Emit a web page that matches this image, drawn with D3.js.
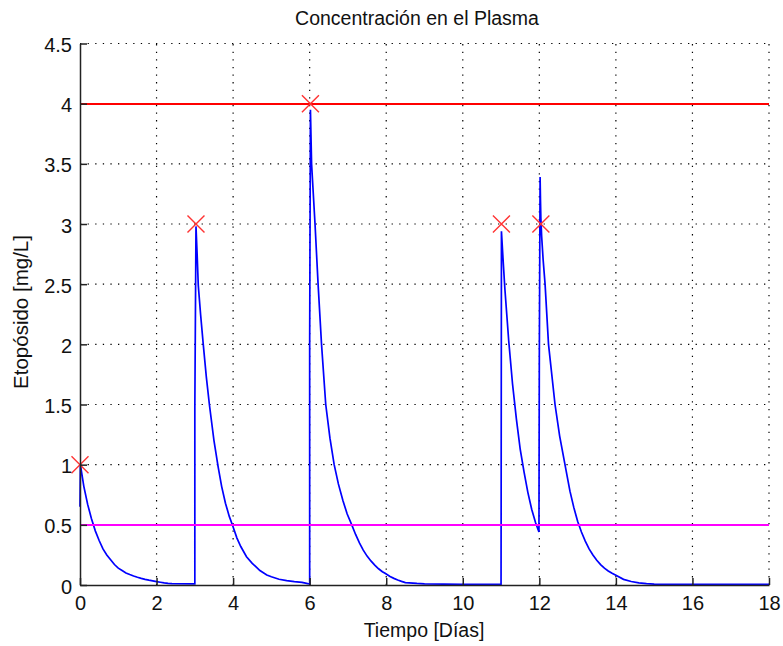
<!DOCTYPE html>
<html>
<head>
<meta charset="utf-8">
<script src="https://cdn.jsdelivr.net/npm/d3@7"></script>
<style>
  html, body { margin: 0; padding: 0; background: #fff; }
  svg { display: block; font-family: "Liberation Sans", Arial, sans-serif; }
  .grid line { stroke: #000; stroke-width: 1.2; stroke-dasharray: 1.3,6.3; }
  .tick-label { font-size: 20px; fill: #111; }
  .lbl { font-size: 19.5px; fill: #111; }
</style>
</head>
<body>
<div id="chart"></div>
<script>
// Concentración de etopósido en plasma (días, mg/L)
var t0 = [0, 0.01, 0.1, 0.2, 0.3, 0.4, 0.5, 0.6, 0.7, 0.8, 0.9, 1.0, 1.1, 1.2, 1.3, 1.4, 1.5, 1.6, 1.7, 1.8, 1.9, 2.0, 2.1, 2.2, 2.3, 2.4, 2.99];
var c0 = [0.65, 1.0, 0.82, 0.67, 0.55, 0.45, 0.37, 0.30, 0.25, 0.21, 0.17, 0.14, 0.12, 0.10, 0.087, 0.075, 0.064, 0.055, 0.047, 0.04, 0.034, 0.028, 0.023, 0.018, 0.014, 0.011, 0.01];

var t3 = [3.0, 3.0, 3.03, 3.06, 3.09, 3.15, 3.22, 3.3, 3.38, 3.5, 3.61, 3.7, 3.8, 3.9, 3.98, 4.1, 4.2, 4.35, 4.5, 4.6, 4.7, 4.88, 5.0, 5.2, 5.4, 5.6, 5.8, 5.95, 5.99];
var c3 = [0.01, 1.47, 2.98, 2.75, 2.49, 2.25, 2.0, 1.73, 1.5, 1.2, 0.98, 0.82, 0.68, 0.57, 0.5, 0.39, 0.32, 0.235, 0.18, 0.15, 0.12, 0.083, 0.068, 0.048, 0.036, 0.028, 0.022, 0.012, 0.01];

var t6 = [6.0, 6.0, 6.02, 6.05, 6.14, 6.22, 6.31, 6.42, 6.53, 6.64, 6.75, 6.87, 6.98, 7.1, 7.2, 7.3, 7.4, 7.5, 7.6, 7.7, 7.8, 7.9, 7.97, 8.1, 8.2, 8.3, 8.4, 8.5, 8.8, 9.0, 10.0, 10.99];
var c6 = [0.01, 2.0, 3.95, 3.5, 3.0, 2.5, 2.0, 1.5, 1.22, 1.0, 0.84, 0.70, 0.59, 0.5, 0.42, 0.35, 0.29, 0.24, 0.2, 0.165, 0.135, 0.11, 0.097, 0.07, 0.055, 0.042, 0.03, 0.02, 0.013, 0.01, 0.006, 0.005];

var t11 = [11.0, 11.01, 11.05, 11.1, 11.2, 11.3, 11.4, 11.5, 11.6, 11.7, 11.8, 11.9, 11.99];
var c11 = [0.005, 2.94, 2.72, 2.46, 2.03, 1.67, 1.38, 1.13, 0.94, 0.77, 0.63, 0.52, 0.44];

var t12 = [12.0, 12.02, 12.03, 12.04, 12.06, 12.1, 12.15, 12.24, 12.41, 12.53, 12.67, 12.8, 12.9, 13.0, 13.1, 13.2, 13.3, 13.4, 13.5, 13.6, 13.7, 13.8, 13.9, 14.0, 14.2, 14.4, 14.6, 14.8, 15.0, 15.5, 16.0, 18.0];
var c12 = [1.91, 3.39, 3.2, 3.05, 2.9, 2.7, 2.5, 2.0, 1.5, 1.24, 1.0, 0.78, 0.645, 0.53, 0.44, 0.365, 0.30, 0.25, 0.206, 0.17, 0.14, 0.117, 0.097, 0.08, 0.047, 0.029, 0.018, 0.012, 0.008, 0.006, 0.005, 0.005];

// picos marcados con "x"
var doseT = [0, 3.03, 6.02, 11.01, 12.04];
var doseC = [1, 3, 4, 3, 3];

// límites terapéuticos
var limSup = 4, limInf = 0.5;

var xTicks = [0, 2, 4, 6, 8, 10, 12, 14, 16, 18];
var yTicks = [0, 0.5, 1, 1.5, 2, 2.5, 3, 3.5, 4, 4.5];

var W = 783, H = 646;
var plotL = 80, plotR = 769, plotT = 43.5, plotB = 585;

var svg = d3.select("#chart").append("svg").attr("width", W).attr("height", H);

var x = d3.scaleLinear().domain([0, 18]).range([plotL, plotR]);
var y = d3.scaleLinear().domain([0, 4.5]).range([plotB, plotT]);

// rejilla punteada (sin caja)
var grid = svg.append("g").attr("class", "grid");
grid.selectAll(".gx").data(xTicks.filter(function (d) { return d > 0; })).enter().append("line")
  .attr("x1", function (d) { return x(d); }).attr("x2", function (d) { return x(d); })
  .attr("y1", plotB).attr("y2", plotT);
grid.selectAll(".gy").data(yTicks.filter(function (d) { return d > 0; })).enter().append("line")
  .attr("y1", function (d) { return y(d); }).attr("y2", function (d) { return y(d); })
  .attr("x1", plotL).attr("x2", plotR);

// curva
var pts = [];
[[t0, c0], [t3, c3], [t6, c6], [t11, c11], [t12, c12]].forEach(function (s) {
  s[0].forEach(function (t, i) { pts.push([t, s[1][i]]); });
});
var line = d3.line().x(function (d) { return x(d[0]); }).y(function (d) { return y(d[1]); });
svg.append("path").datum(pts).attr("d", line)
  .attr("fill", "none").attr("stroke", "#0000ff").attr("stroke-width", 1.7);

// límites (ajustados al píxel para que el color quede limpio)
function hline(v, color) {
  var py = Math.round(y(v));
  svg.append("line").attr("x1", plotL).attr("x2", plotR).attr("y1", py).attr("y2", py)
    .attr("stroke", color).attr("stroke-width", 2);
}
hline(limSup, "#ff0000");
hline(limInf, "#ff00ff");

// marcadores x
var m = 8.5;
var mk = svg.append("g").attr("stroke", "#ff3333").attr("stroke-width", 1.4);
doseT.forEach(function (t, i) {
  var px = x(t), py = y(doseC[i]);
  mk.append("path").attr("d", "M" + (px - m) + "," + (py - m) + "L" + (px + m) + "," + (py + m) +
    "M" + (px - m) + "," + (py + m) + "L" + (px + m) + "," + (py - m));
});

// ejes
var xAxis = d3.axisBottom(x).tickValues(xTicks).tickSizeInner(-7).tickSizeOuter(0).tickPadding(11).tickFormat(d3.format("d"));
var yAxis = d3.axisLeft(y).tickValues(yTicks).tickSizeInner(-7).tickSizeOuter(0).tickPadding(8).tickFormat(function (d) { return String(d); });

var gx = svg.append("g").attr("transform", "translate(0," + plotB + ")").call(xAxis);
var gy = svg.append("g").attr("transform", "translate(" + plotL + ",0)").call(yAxis);
[gx, gy].forEach(function (g) {
  g.select(".domain").attr("stroke", "#222").attr("stroke-width", 1.5);
  g.selectAll(".tick line").attr("stroke", "#222").attr("stroke-width", 1.5);
  g.selectAll(".tick text").attr("class", "tick-label").attr("font-family", null).attr("font-size", null);
});
gy.selectAll(".tick text").attr("dy", "0.4em");

// textos
svg.append("text").attr("class", "lbl").attr("x", 417).attr("y", 25).attr("text-anchor", "middle")
  .text("Concentración en el Plasma");
svg.append("text").attr("class", "lbl").attr("x", 424).attr("y", 637).attr("text-anchor", "middle")
  .text("Tiempo [Días]");
svg.append("text").attr("class", "lbl").attr("transform", "translate(28,312) rotate(-90)").attr("text-anchor", "middle")
  .style("font-size", "20.5px")
  .text("Etopósido [mg/L]");
</script>
</body>
</html>
